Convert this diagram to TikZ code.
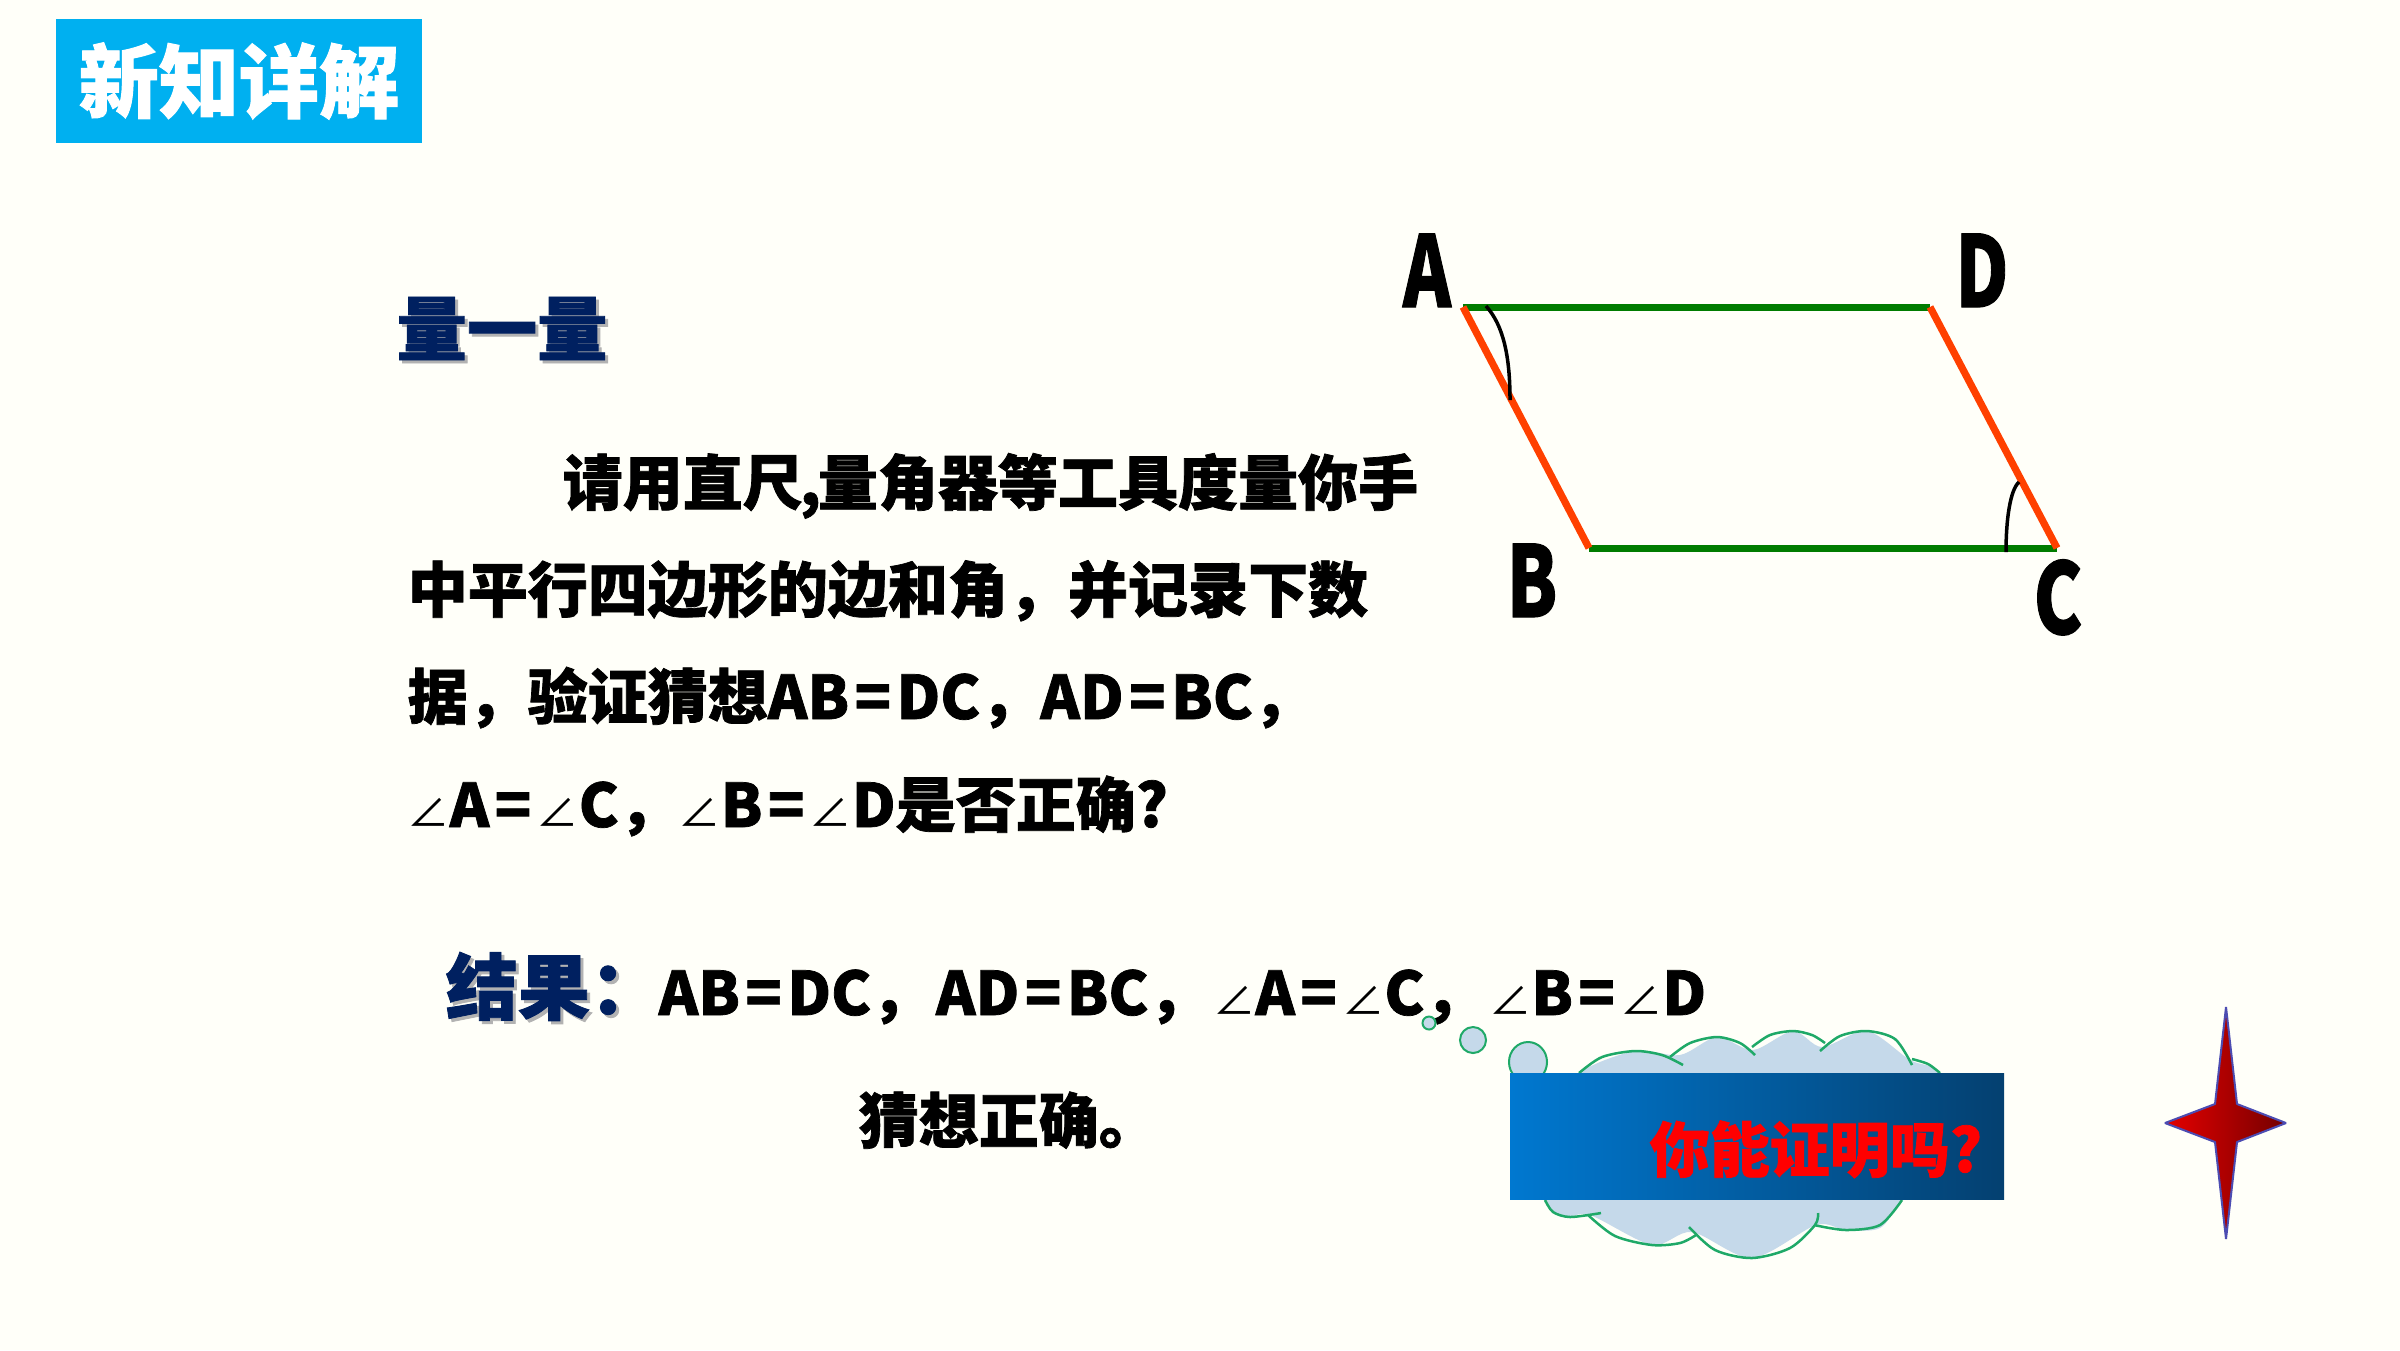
\documentclass[tikz,border=0pt]{standalone}
\usepackage{fontspec}
\setmainfont[BoldFeatures={FakeBold=1.2}]{Noto Sans CJK SC}
\usetikzlibrary{calc,positioning,shapes.geometric}
\definecolor{paper}{HTML}{FFFFF9}
\definecolor{titlebg}{HTML}{00B0F0}
\definecolor{navy}{HTML}{002060}
\definecolor{sideorange}{HTML}{FF4000}
\definecolor{sidegreen}{HTML}{007C00}
\definecolor{cloudfill}{HTML}{C5D9EA}
\definecolor{cloudline}{HTML}{1FA968}
\definecolor{boxleft}{HTML}{0078D0}
\definecolor{boxright}{HTML}{044070}
\newcommand{\ang}{{\mdseries\scalebox{0.7}{∠}}}
\newcommand{\eq}{\kern.09em=\kern.09em}
\tikzset{
	bodytext/.style={anchor=base west,inner sep=0pt,font=\bfseries\fontsize{17.07}{20}\selectfont},
	headtext/.style={anchor=base,inner sep=0pt,text=navy,font=\bfseries\fontsize{#1}{#1}\selectfont},
	headshadow/.style={anchor=base,inner sep=0pt,text=black!30,font=\bfseries\fontsize{#1}{#1}\selectfont},
	vertex/.style={anchor=base,inner sep=0pt,xscale=0.74,font=\bfseries\fontsize{28}{28}\selectfont},
	sideA/.style={sideorange,line width=0.072cm},
	sideB/.style={sidegreen,line width=0.07cm},
	anglearc/.style={black,line width=0.035cm},
	bubble/.style={draw=cloudline,fill=cloudfill,line width=0.02cm,ellipse,inner sep=0pt},
	lobe/.style={cloudline,line width=0.025cm},
}
\begin{document}
\begin{tikzpicture}[x=0.01cm,y=-0.01cm]
	\useasboundingbox (0,0) rectangle (2400,1350);
	\fill[paper] (0,0) rectangle (2400,1350);
	%
	\fill[titlebg] (56,19) rectangle (422,143);
	\node[inner sep=0pt,text=white,font=\bfseries\fontsize{22.8}{24}\selectfont] (title) at (239,81) {新知详解};
	%
	\node[headshadow=20] (measureshadow) at (505,358) {量一量};
	\node[headtext=20] (measure) at (502,355) {量一量};
	%
	\node[bodytext] (line1) at (562,505) {请用直尺\kern-.05em,\kern-.05em 量角器等工具度量你手};
	\node[bodytext] (line2) at (407,612) {中平行四边形的边和角，并记录下数};
	\node[bodytext] (line3) at (407,719) {据，验证猜想AB\eq DC，AD\eq BC，};
	\node[bodytext] (line4) at (407,827) {\ang A\eq\ang C，\ang B\eq\ang D是否正确?};
	%
	\node[headshadow=20.5] (resultshadow) at (557,1017) {结果：};
	\node[headtext=20.5] (result) at (554,1014) {结果：};
	\node[bodytext] (result1) at (658,1015) {AB\eq DC，\kern.08em AD\eq BC，\kern.08em\ang A\eq\ang C，\kern.08em\ang B\eq\ang D};
	\node[bodytext] (result2) at (858,1143) {猜想正确。};
	%
	\coordinate (A) at (1463,307);
	\coordinate (D) at (1930,307);
	\coordinate (B) at (1589,548);
	\coordinate (C) at (2057,548);
	\draw[sideB] (A) -- (D);
	\draw[sideB] (B) -- (C);
	\draw[sideA] (A) -- (B);
	\draw[sideA] (D) -- (C);
	\draw[anglearc] (1486,306) .. controls (1503,325) and (1510,355) .. (1510,400);
	\draw[anglearc] (2006,552) .. controls (2006,520) and (2010,490) .. (2019,482);
	\node[vertex] (labelA) at (1427,307) {A};
	\node[vertex] (labelD) at (1982,307) {D};
	\node[vertex] (labelB) at (1532,617) {B};
	\node[vertex] (labelC) at (2058,634) {C};
	%
	\fill[cloudfill] plot[smooth cycle] coordinates {(1545,1200) (1540,1120) (1579,1073) (1635,1051) (1680,1055) (1717,1037) (1753,1050) (1793,1031) (1822,1047) (1867,1031) (1910,1060) (1940,1073) (1960,1130) (1902,1200) (1880,1228) (1846,1230) (1816,1225) (1752,1258) (1692,1232) (1652,1245) (1590,1215) (1564,1217)};
	\draw[lobe] plot[smooth] coordinates {(1579,1073) (1602,1057) (1635,1051) (1662,1055) (1683,1065)};
	\draw[lobe] plot[smooth] coordinates {(1670,1057) (1690,1043) (1717,1037) (1740,1043) (1755,1055)};
	\draw[lobe] plot[smooth] coordinates {(1752,1047) (1770,1035) (1793,1031) (1812,1035) (1825,1043)};
	\draw[lobe] plot[smooth] coordinates {(1820,1051) (1840,1036) (1867,1031) (1895,1039) (1912,1065)};
	\draw[lobe] plot[smooth] coordinates {(1912,1059) (1928,1064) (1940,1073)};
	\draw[lobe] plot[smooth] coordinates {(1545,1200) (1553,1212) (1570,1217) (1601,1213)};
	\draw[lobe] plot[smooth] coordinates {(1588,1215) (1615,1236) (1652,1245) (1680,1243) (1696,1235)};
	\draw[lobe] plot[smooth] coordinates {(1689,1227) (1715,1250) (1752,1258) (1790,1248) (1815,1225) (1818,1213)};
	\draw[lobe] plot[smooth] coordinates {(1814,1225) (1846,1230) (1880,1225) (1902,1200)};
	\node[bubble,minimum width=0.13cm,minimum height=0.13cm] (bubble1) at (1429,1023) {};
	\node[bubble,minimum width=0.26cm,minimum height=0.26cm] (bubble2) at (1473,1040) {};
	\node[bubble,minimum width=0.38cm,minimum height=0.40cm] (bubble3) at (1528,1062) {};
	\shade[left color=boxleft,right color=boxright] (1510,1073) rectangle (2004,1199);
	\node[anchor=base west,inner sep=0pt,text=red,font=\bfseries\fontsize{17.07}{20}\selectfont] (prove) at (1649,1172) {你能证明吗?};
	%
	\coordinate (starN) at (2226,1007);
	\coordinate (starE) at (2286,1123);
	\coordinate (starS) at (2226,1239);
	\coordinate (starW) at (2165,1123);
	\shade[left color=red!90!black,right color=red!45!black,draw=blue!40!gray,line width=0.02cm,line join=bevel] (starN) -- (2237,1104) -- (starE) -- (2237,1142) -- (starS) -- (2215,1142) -- (starW) -- (2215,1104) -- cycle;
\end{tikzpicture}
\end{document}
